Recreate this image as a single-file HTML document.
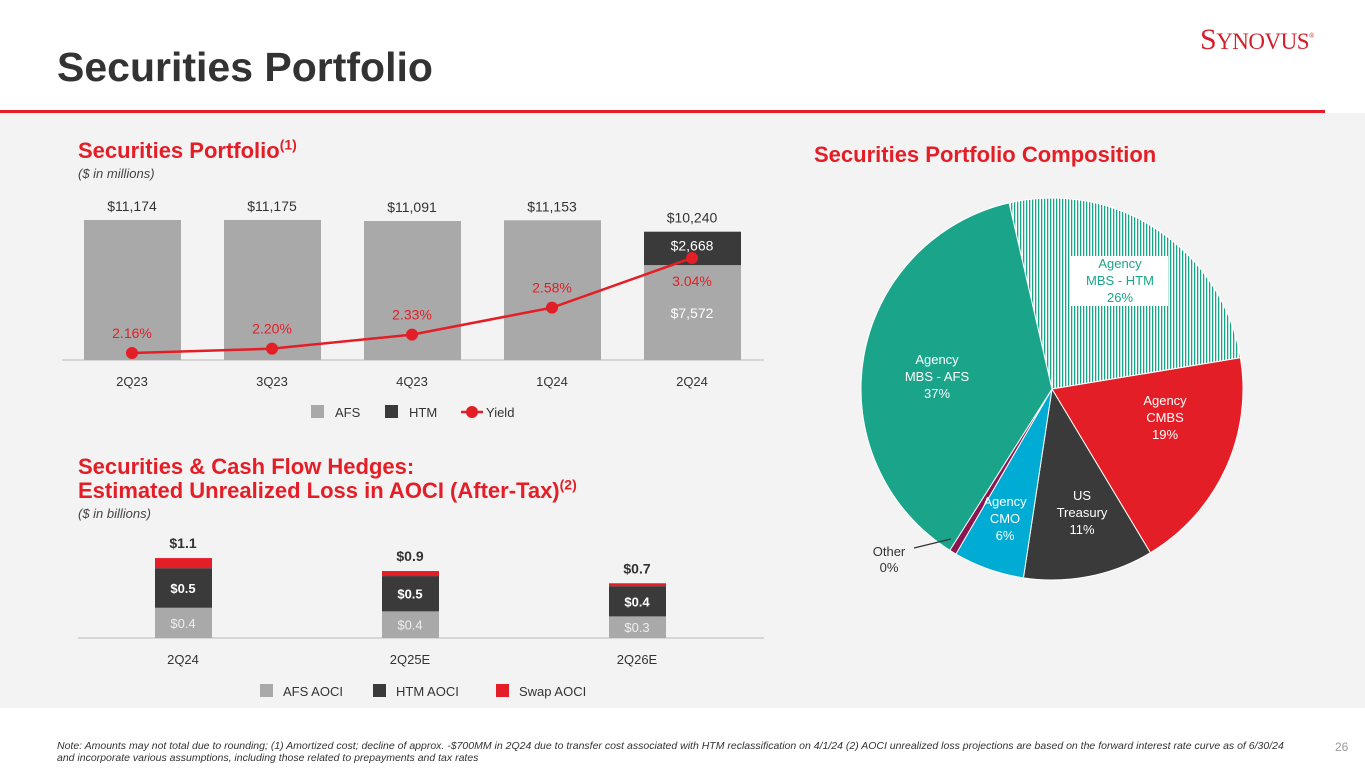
<!DOCTYPE html>
<html><head><meta charset="utf-8"><style>
body{margin:0;width:1365px;height:768px;overflow:hidden;background:#fff;font-family:"Liberation Sans",sans-serif;position:relative}
.abs{position:absolute}
sup{line-height:0}
</style></head><body>
<div class="abs" style="left:0;top:113px;width:1365px;height:595px;background:#f3f3f3"></div>
<div class="abs" style="left:57px;top:44px;font-size:41px;font-weight:bold;color:#333">Securities Portfolio</div>
<div class="abs" style="left:0;top:110px;width:1325px;height:3px;background:#e31e26"></div>
<div class="abs" style="left:1200px;top:23px;font-family:'Liberation Serif',serif;font-size:30px;color:#d41f2a;letter-spacing:-0.5px">S<span style="font-size:23px">YNOVUS</span><sup style="font-size:7px">®</sup></div>
<div class="abs" style="left:78px;top:138px;font-size:22px;font-weight:bold;color:#e31e26">Securities Portfolio<sup style="font-size:14px">(1)</sup></div>
<div class="abs" style="left:78px;top:166px;font-size:13px;font-style:italic;color:#444">($ in millions)</div>
<div class="abs" style="left:78px;top:455px;font-size:22px;font-weight:bold;color:#e31e26;line-height:24px">Securities &amp; Cash Flow Hedges:<br>Estimated Unrealized Loss in AOCI (After-Tax)<sup style="font-size:14px">(2)</sup></div>
<div class="abs" style="left:78px;top:506px;font-size:13px;font-style:italic;color:#444">($ in billions)</div>
<div class="abs" style="left:814px;top:142px;font-size:22px;font-weight:bold;color:#e31e26">Securities Portfolio Composition</div>
<div class="abs" style="left:57px;top:740px;width:1240px;font-size:10.5px;font-style:italic;color:#333;line-height:12px">Note: Amounts may not total due to rounding; (1) Amortized cost; decline of approx. -$700MM in 2Q24 due to transfer cost associated with HTM reclassification on 4/1/24 (2) AOCI unrealized loss projections are based on the forward interest rate curve as of 6/30/24 and incorporate various assumptions, including those related to prepayments and tax rates</div>
<div class="abs" style="left:1335px;top:740px;font-size:12px;color:#999">26</div>
<svg class="abs" style="left:0;top:0" width="1365" height="768" id="svg" font-family="Liberation Sans, sans-serif">
<defs><pattern id="hatch" width="3" height="4" patternUnits="userSpaceOnUse"><rect width="3" height="4" fill="#fff"/><rect width="1.3" height="4" fill="#1aa58a"/></pattern></defs>
</svg>
<script>
const qCats=['2Q23','3Q23','4Q23','1Q24','2Q24'];
const afsVals=[11174,11175,11091,11153,7572];
const htmVals=[0,0,0,0,2668];
const totalLabels=['$11,174','$11,175','$11,091','$11,153','$10,240'];
const yieldVals=[2.16,2.20,2.33,2.58,3.04];
const aCats=['2Q24','2Q25E','2Q26E'];
const afsAoci=[0.42,0.37,0.30];
const htmAoci=[0.55,0.49,0.42];
const swapAoci=[0.14,0.07,0.04];
const aTotals=['$1.1','$0.9','$0.7'];
const afsAociLbl=['$0.4','$0.4','$0.3'];
const htmAociLbl=['$0.5','$0.5','$0.4'];
const pieCats=['Agency MBS - HTM','Agency CMBS','US Treasury','Agency CMO','Other','Agency MBS - AFS'];
const pieVals=[26,19,11,6,0.6,37.4];
const pieColors=['url(#hatch)','#e31e26','#3a3a3a','#00acd3','#8a1550','#1aa58a'];
const NS='http://www.w3.org/2000/svg';
const svg=document.getElementById('svg');
function el(t,a,txt){const e=document.createElementNS(NS,t);for(const k in a)e.setAttribute(k,a[k]);if(txt!==undefined)e.textContent=txt;svg.appendChild(e);return e;}
// top chart
const bx=i=>132+i*140, by=v=>360-v*0.01253, yy=v=>353-(v-2.16)*108;
let ax=el('line',{x1:62,x2:764,y1:360,y2:360,stroke:'#ccc','stroke-width':1.5});

qCats.forEach((c,i)=>{
 let r=el('rect',{x:bx(i)-48,width:97,y:by(afsVals[i]),height:360-by(afsVals[i]),fill:'#a9a9a9'});
 
 if(htmVals[i]>0){let top=by(afsVals[i]+htmVals[i]);let h=el('rect',{x:bx(i)-48,width:97,y:top,height:by(afsVals[i])-top,fill:'#3a3a3a'});
  
  let t=el('text',{x:bx(i),y:top+19,'text-anchor':'middle','font-size':14,fill:'#fff'},'$'+htmVals[i].toLocaleString('en-US'));
  let t2=el('text',{x:bx(i),y:318,'text-anchor':'middle','font-size':14,fill:'#fff'},'$'+afsVals[i].toLocaleString('en-US'));}
 let tl=el('text',{x:bx(i),y:by(afsVals[i]+htmVals[i])-9,'text-anchor':'middle','font-size':14,fill:'#333'},totalLabels[i]);
 
 let xl=el('text',{x:bx(i),y:386,'text-anchor':'middle','font-size':13,fill:'#333'},c);
 
});
let pl=el('polyline',{points:yieldVals.map((v,i)=>bx(i)+','+yy(v)).join(' '),fill:'none',stroke:'#e31e26','stroke-width':2.5});

yieldVals.forEach((v,i)=>{let c=el('circle',{cx:bx(i),cy:yy(v),r:6,fill:'#e31e26'});
 let ly=i==4?yy(v)+28:yy(v)-15;
 let t=el('text',{x:bx(i),y:ly,'text-anchor':'middle','font-size':14,fill:'#e31e26'},v.toFixed(2)+'%');});
// top legend
let lg=[['AFS','#a9a9a9',311],['HTM','#3a3a3a',385]];
lg.forEach(([n,c,x])=>{let r=el('rect',{x:x,y:405,width:13,height:13,fill:c});
 let t=el('text',{x:x+24,y:417,'font-size':13,fill:'#333'},n);});
let yl=el('line',{x1:461,x2:483,y1:412,y2:412,stroke:'#e31e26','stroke-width':2.5});
let yc=el('circle',{cx:472,cy:412,r:6,fill:'#e31e26'});
let yt=el('text',{x:486,y:417,'font-size':13,fill:'#333'},'Yield');
// AOCI chart
const ax2=i=>183+i*227, ay=v=>638-v*72;
let a2=el('line',{x1:78,x2:764,y1:638,y2:638,stroke:'#ccc','stroke-width':1.5});
aCats.forEach((c,i)=>{
 let y1=ay(afsAoci[i]),y2=ay(afsAoci[i]+htmAoci[i]),y3=ay(afsAoci[i]+htmAoci[i]+swapAoci[i]);
 [[638,y1,'#a9a9a9','afs-aoci'],[y1,y2,'#3a3a3a','htm-aoci'],[y2,y3,'#e31e26','swap-aoci']].forEach(([b,t,f,n])=>{
  let r=el('rect',{x:ax2(i)-28,width:57,y:t,height:b-t,fill:f});});
 let t1=el('text',{x:ax2(i),y:(638+y1)/2+5,'text-anchor':'middle','font-size':13,fill:'#eee'},afsAociLbl[i]);
 let t2=el('text',{x:ax2(i),y:(y1+y2)/2+5,'text-anchor':'middle','font-size':13,fill:'#fff','font-weight':'bold'},htmAociLbl[i]);
 let t3=el('text',{x:ax2(i),y:y3-10,'text-anchor':'middle','font-size':14,fill:'#333','font-weight':'bold'},aTotals[i]);
 let t4=el('text',{x:ax2(i),y:664,'text-anchor':'middle','font-size':13,fill:'#333'},c);
});
[['AFS AOCI','#a9a9a9',260],['HTM AOCI','#3a3a3a',373],['Swap AOCI','#e31e26',496]].forEach(([n,c,x])=>{
 let r=el('rect',{x:x,y:684,width:13,height:13,fill:c});
 let t=el('text',{x:x+23,y:696,'font-size':13,fill:'#333'},n);});
// pie
const cx=1052,cy=389,R=191;
let ang=-13*Math.PI/180;const tot=pieVals.reduce((a,b)=>a+b,0);
const pt=(a,r)=>[cx+r*Math.sin(a),cy-r*Math.cos(a)];
pieVals.forEach((v,i)=>{const a2=ang+v/tot*2*Math.PI;const [x1,y1]=pt(ang,R),[x2,y2]=pt(a2,R);
 let p=el('path',{d:`M${cx},${cy}L${x1},${y1}A${R},${R} 0 ${a2-ang>Math.PI?1:0} 1 ${x2},${y2}Z`,fill:pieColors[i],stroke:'#fff','stroke-width':1});
 ang=a2;});
let box=el('rect',{x:1071,y:256,width:97,height:50,fill:'#fff'});
const pl2=[[1120,['Agency','MBS - HTM','26%'],'#1aa58a'],[1165,['Agency','CMBS','19%'],'#fff'],[1082,['US','Treasury','11%'],'#fff'],[1005,['Agency','CMO','6%'],'#fff'],[937,['Agency','MBS - AFS','37%'],'#fff']];
const ly0=[268,405,500,506,364];
pl2.forEach(([x,ls,c],k)=>ls.forEach((s,j)=>{let t=el('text',{x:x,y:ly0[k]+j*17,'text-anchor':'middle','font-size':13,fill:c},s);}));
let ol=el('line',{x1:914,y1:548,x2:951,y2:539,stroke:'#333','stroke-width':1.2});
['Other','0%'].forEach((s,j)=>{let t=el('text',{x:889,y:556+j*16,'text-anchor':'middle','font-size':13,fill:'#333'},s);});
</script>
</body></html>
